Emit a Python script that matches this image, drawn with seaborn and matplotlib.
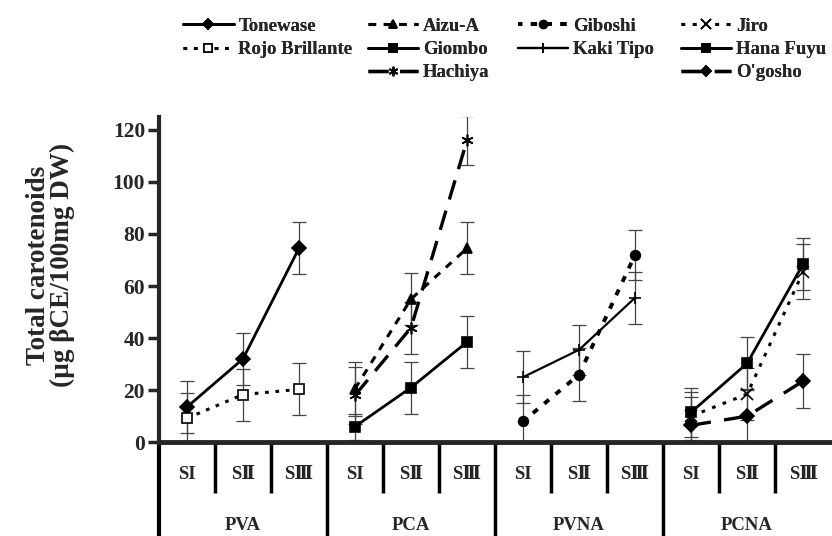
import numpy as np
import pandas as pd
import seaborn as sns
import matplotlib.pyplot as plt

# categories
groups = ["PVA", "PCA", "PVNA", "PCNA"]
stages = ["SI", "SⅡ", "SⅢ"]

# cultivar values (µg βCE/100mg DW) and their error bars
tonewase = [13.5, 32.0, 74.5]
tonewase_err = [10, 10, 10]
rojo_brillante = [9.2, 18.3, 20.3]
rojo_brillante_err = [9.8, 10, 10]
aizu_a = [20.5, 55.0, 74.5]
aizu_a_err = [10.5, 10, 10]
giombo = [6.0, 21.0, 38.5]
giombo_err = [5, 10, 10]
hachiya = [18.0, 44.0, 116.0]
hachiya_err = [11, 10, 9.5]
giboshi = [8.0, 26.0, 72.0]
giboshi_err = [10, 10, 9.5]
kaki_tipo = [25.0, 35.5, 55.5]
kaki_tipo_err = [10, 9.5, 10]
jiro = [10.0, 18.5, 65.5]
jiro_err = [9.3, 10, 10.5]
hana_fuyu = [11.5, 30.3, 68.5]
hana_fuyu_err = [9.5, 10, 10]
ogosho = [6.5, 10.0, 23.5]
ogosho_err = [11, 10, 10.5]

# name, group, values, errors, marker, linestyle, linewidth, facecolor
series = [
    ("Tonewase", "PVA", tonewase, tonewase_err, "D", "-", 2.0, "black"),
    ("Rojo Brillante", "PVA", rojo_brillante, rojo_brillante_err, "s", (0, (1.2, 2.2)), 2.2, "white"),
    ("Aizu-A", "PCA", aizu_a, aizu_a_err, "^", (0, (2.5, 2.5)), 2.2, "black"),
    ("Giombo", "PCA", giombo, giombo_err, "s", "-", 2.0, "black"),
    ("Hachiya", "PCA", hachiya, hachiya_err, (6, 2, 0), (0, (6, 3.5)), 2.4, "black"),
    ("Giboshi", "PVNA", giboshi, giboshi_err, "o", (0.5, (1.6, 2.2)), 2.8, "black"),
    ("Kaki Tipo", "PVNA", kaki_tipo, kaki_tipo_err, "+", "-", 1.6, "black"),
    ("Jiro", "PCNA", jiro, jiro_err, "x", (0, (1.2, 2.5)), 2.2, "black"),
    ("Hana Fuyu", "PCNA", hana_fuyu, hana_fuyu_err, "s", "-", 2.0, "black"),
    ("O'gosho", "PCNA", ogosho, ogosho_err, "D", (0, (6, 4)), 2.4, "black"),
]

rows = []
for name, grp, vals, errs, *_ in series:
    for st, v, e in zip(stages, vals, errs):
        rows.append({"cultivar": name, "group": grp, "stage": st,
                     "pos": groups.index(grp) * 3 + stages.index(st),
                     "value": v, "err": e})
df = pd.DataFrame(rows)

sns.set_style("white")
plt.rcParams["font.family"] = ["Liberation Serif", "DejaVu Serif"]
plt.rcParams["font.weight"] = "bold"

fig = plt.figure(figsize=(8.32, 5.36), dpi=100)
ax = fig.add_axes([0.191, 0.175, 0.808, 0.607])

for name, grp, vals, errs, marker, ls, lw, fc in series:
    sub = df[df["cultivar"] == name].sort_values("pos")
    ax.errorbar(sub["pos"], sub["value"], yerr=sub["err"], fmt="none",
                ecolor="#444444", elinewidth=0.9, capsize=5, capthick=0.9, zorder=1)
    ms = 8.5 if marker in ("x", "+", (6, 2, 0)) else 7
    sns.lineplot(data=sub, x="pos", y="value", ax=ax, color="black",
                 linestyle=ls, linewidth=lw, marker=marker, markersize=ms,
                 markerfacecolor=fc, markeredgecolor="black", markeredgewidth=1.2,
                 errorbar=None, sort=False, label=name, zorder=3)

ax.set_xlim(-0.5, 11.5)
ax.set_ylim(0, 125)
ax.set_yticks(range(0, 121, 20))
ax.set_xticks([])
ax.set_xlabel("")
ax.set_ylabel("")
for lab in ax.get_yticklabels():
    lab.set_fontsize(15.5)
    lab.set_fontweight("bold")
ax.tick_params(axis="y", direction="out", length=8, width=2.5, left=True, pad=2)
for side in ["top", "right"]:
    ax.spines[side].set_visible(False)
ax.spines["left"].set_linewidth(3)
ax.spines["bottom"].set_linewidth(3.5)

# two-level category axis
trans = ax.get_xaxis_transform()
for i in range(12):
    ax.text(i, -0.098, stages[i % 3], transform=trans, ha="center", va="center",
            fontsize=13.5, fontweight="bold", clip_on=False)
for g, grp in enumerate(groups):
    ax.text(g * 3 + 1, -0.255, grp, transform=trans, ha="center", va="center",
            fontsize=13.5, fontweight="bold", clip_on=False)
for b in range(1, 12):
    bottom = -0.3 if b % 3 == 0 else -0.157
    ax.plot([b - 0.5, b - 0.5], [0, bottom], transform=trans, color="black",
            lw=2.5, clip_on=False, solid_capstyle="butt")
ax.plot([-0.5, -0.5], [0, -0.3], transform=trans, color="black", lw=3,
        clip_on=False, solid_capstyle="butt")

fig.text(0.061, 0.505, "Total carotenoids\n(µg βCE/100mg DW)", rotation=90,
         ha="center", va="center", fontsize=19.5, fontweight="bold",
         multialignment="center", linespacing=0.95)

# legend: four columns placed like the original, with blank slots
handles, labels = ax.get_legend_handles_labels()
ax.get_legend().remove()
lut = dict(zip(labels, handles))
legend_cols = [
    (0.220, ["Tonewase", "Rojo Brillante"]),
    (0.442, ["Aizu-A", "Giombo", "Hachiya"]),
    (0.622, ["Giboshi", "Kaki Tipo"]),
    (0.818, ["Jiro", "Hana Fuyu", "O'gosho"]),
]
for x0, names in legend_cols:
    leg = fig.legend([lut[n] for n in names], names, loc="upper left",
                     bbox_to_anchor=(x0, 0.967), frameon=False, borderpad=0,
                     borderaxespad=0, handlelength=2.7, handletextpad=0.25,
                     labelspacing=0.33, markerscale=0.8,
                     prop={"size": 13.5, "weight": "bold"})
    fig.add_artist(leg)

fig.savefig("out.png", dpi=100)
